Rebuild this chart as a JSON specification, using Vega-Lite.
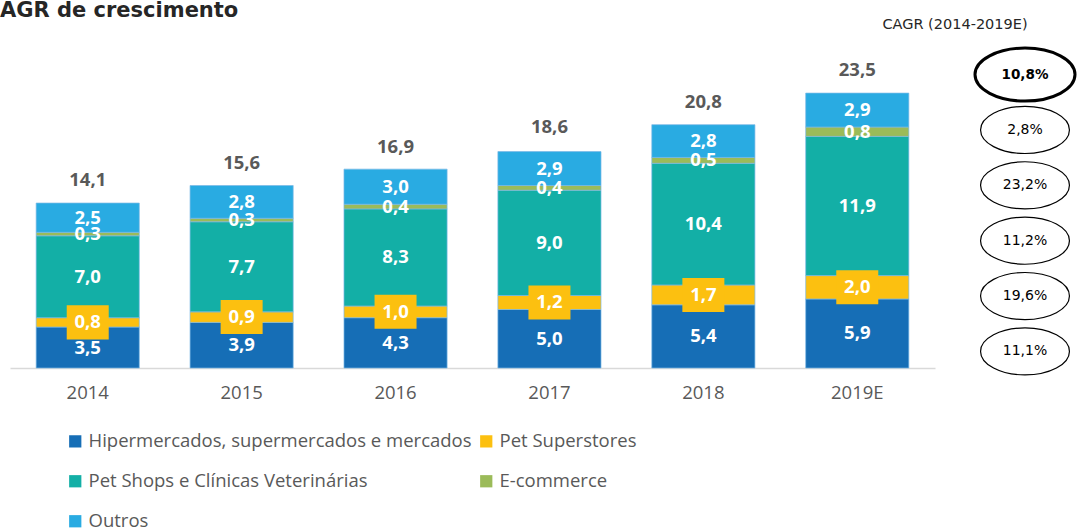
{
  "$schema": "https://vega.github.io/schema/vega-lite/v6.json",
  "padding": {"left": 0, "top": 0, "right": 5, "bottom": 0},
  "bounds": "flush",
  "spacing": 40,
  "config": {
    "view": {"stroke": null},
    "locale": {"number": {"decimal": ",", "thousands": ".", "grouping": [3], "currency": ["R$", ""]}}
  },
  "hconcat": [
    {
      "width": 925,
      "height": 310,
      "title": {"text": "AGR de crescimento", "anchor": "start", "dx": -10, "fontSize": 21, "font": "DejaVu Sans", "fontWeight": "bold", "color": "#262626", "offset": 37},
      "layer": [
        {
          "data": {"values": [
            {"ano": "2014", "canal": "Hipermercados, supermercados e mercados", "valor": 3.5},
            {"ano": "2014", "canal": "Pet Superstores", "valor": 0.8},
            {"ano": "2014", "canal": "Pet Shops e Clínicas Veterinárias", "valor": 7.0},
            {"ano": "2014", "canal": "E-commerce", "valor": 0.3},
            {"ano": "2014", "canal": "Outros", "valor": 2.5},
            {"ano": "2015", "canal": "Hipermercados, supermercados e mercados", "valor": 3.9},
            {"ano": "2015", "canal": "Pet Superstores", "valor": 0.9},
            {"ano": "2015", "canal": "Pet Shops e Clínicas Veterinárias", "valor": 7.7},
            {"ano": "2015", "canal": "E-commerce", "valor": 0.3},
            {"ano": "2015", "canal": "Outros", "valor": 2.8},
            {"ano": "2016", "canal": "Hipermercados, supermercados e mercados", "valor": 4.3},
            {"ano": "2016", "canal": "Pet Superstores", "valor": 1.0},
            {"ano": "2016", "canal": "Pet Shops e Clínicas Veterinárias", "valor": 8.3},
            {"ano": "2016", "canal": "E-commerce", "valor": 0.4},
            {"ano": "2016", "canal": "Outros", "valor": 3.0},
            {"ano": "2017", "canal": "Hipermercados, supermercados e mercados", "valor": 5.0},
            {"ano": "2017", "canal": "Pet Superstores", "valor": 1.2},
            {"ano": "2017", "canal": "Pet Shops e Clínicas Veterinárias", "valor": 9.0},
            {"ano": "2017", "canal": "E-commerce", "valor": 0.4},
            {"ano": "2017", "canal": "Outros", "valor": 2.9},
            {"ano": "2018", "canal": "Hipermercados, supermercados e mercados", "valor": 5.4},
            {"ano": "2018", "canal": "Pet Superstores", "valor": 1.7},
            {"ano": "2018", "canal": "Pet Shops e Clínicas Veterinárias", "valor": 10.4},
            {"ano": "2018", "canal": "E-commerce", "valor": 0.5},
            {"ano": "2018", "canal": "Outros", "valor": 2.8},
            {"ano": "2019E", "canal": "Hipermercados, supermercados e mercados", "valor": 5.9},
            {"ano": "2019E", "canal": "Pet Superstores", "valor": 2.0},
            {"ano": "2019E", "canal": "Pet Shops e Clínicas Veterinárias", "valor": 11.9},
            {"ano": "2019E", "canal": "E-commerce", "valor": 0.8},
            {"ano": "2019E", "canal": "Outros", "valor": 2.9}
          ]},
          "transform": [
            {"calculate": "indexof(['Hipermercados, supermercados e mercados','Pet Superstores','Pet Shops e Clínicas Veterinárias','E-commerce','Outros'], datum.canal)", "as": "ordem"},
            {"stack": "valor", "groupby": ["ano"], "sort": [{"field": "ordem", "order": "ascending"}], "as": ["v0", "v1"]},
            {"calculate": "(datum.v0 + datum.v1) / 2", "as": "meio"}
          ],
          "layer": [
            {
              "mark": {"type": "bar", "stroke": "#7ab8e6", "strokeWidth": 1, "strokeOpacity": 0.7},
              "encoding": {
                "x": {"field": "ano", "type": "ordinal", "scale": {"paddingInner": 0.33, "paddingOuter": 0.17},
                  "axis": {"title": null, "labelAngle": 0, "ticks": false, "domainColor": "#d9d9d9", "domainWidth": 1.5, "labelFontSize": 18.5, "labelFont": "Open Sans", "labelColor": "#595959", "labelPadding": 15}},
                "y": {"field": "v0", "type": "quantitative", "scale": {"domain": [0, 26.5], "nice": false}, "axis": null},
                "y2": {"field": "v1"},
                "color": {"field": "canal", "type": "nominal",
                  "scale": {"domain": ["Hipermercados, supermercados e mercados", "Pet Superstores", "Pet Shops e Clínicas Veterinárias", "E-commerce", "Outros"],
                            "range": ["#166eb6", "#fcc010", "#13afa6", "#9bbb59", "#29abe2"]},
                  "legend": {"title": null, "orient": "none", "legendX": 56, "legendY": 374, "direction": "horizontal", "columns": 2, "symbolType": "square", "symbolSize": 150, "symbolStrokeWidth": 0,
                    "labelFontSize": 18.5, "labelFont": "Open Sans", "labelColor": "#595959", "labelLimit": 600, "rowPadding": 21, "columnPadding": 5, "labelOffset": 4, "padding": 0}}
              }
            },
            {
              "transform": [{"filter": "datum.canal == 'Pet Superstores'"}],
              "mark": {"type": "point", "shape": "M-1,-0.81L1,-0.81L1,0.81L-1,0.81Z", "filled": true, "size": 1764, "opacity": 1, "color": "#fcc010", "strokeWidth": 0},
              "encoding": {
                "x": {"field": "ano", "type": "ordinal"},
                "y": {"field": "meio", "type": "quantitative"}
              }
            },
            {
              "mark": {"type": "text", "font": "Open Sans", "fontSize": 18.5, "fontWeight": "bold", "color": "white"},
              "encoding": {
                "x": {"field": "ano", "type": "ordinal"},
                "y": {"field": "meio", "type": "quantitative"},
                "text": {"field": "valor", "type": "quantitative", "format": ".1f"}
              }
            }
          ]
        },
        {
          "data": {"values": [
            {"ano": "2014", "total": 14.1},
            {"ano": "2015", "total": 15.6},
            {"ano": "2016", "total": 16.9},
            {"ano": "2017", "total": 18.6},
            {"ano": "2018", "total": 20.8},
            {"ano": "2019E", "total": 23.5}
          ]},
          "mark": {"type": "text", "font": "Open Sans", "fontSize": 18.5, "fontWeight": "bold", "color": "#595959", "dy": -23},
          "encoding": {
            "x": {"field": "ano", "type": "ordinal"},
            "y": {"field": "total", "type": "quantitative"},
            "text": {"field": "total", "type": "quantitative", "format": ".1f"}
          }
        }
      ]
    },
    {
      "width": 100,
      "height": 310,
      "title": {"text": "CAGR (2014-2019E)", "anchor": "middle", "dx": -70, "dy": -6, "fontSize": 14.5, "font": "DejaVu Sans", "fontWeight": "normal", "color": "#262626", "offset": 4},
      "data": {"values": [
        {"item": "Total", "cagr": 0.108, "tipo": "Total"},
        {"item": "Outros", "cagr": 0.028, "tipo": "Canal"},
        {"item": "E-commerce", "cagr": 0.232, "tipo": "Canal"},
        {"item": "Pet Shops e Clínicas Veterinárias", "cagr": 0.112, "tipo": "Canal"},
        {"item": "Pet Superstores", "cagr": 0.196, "tipo": "Canal"},
        {"item": "Hipermercados, supermercados e mercados", "cagr": 0.111, "tipo": "Canal"}
      ]},
      "encoding": {
        "y": {"field": "item", "type": "ordinal", "sort": ["Total", "Outros", "E-commerce", "Pet Shops e Clínicas Veterinárias", "Pet Superstores", "Hipermercados, supermercados e mercados"],
          "scale": {"type": "point", "padding": 0.3}, "axis": null}
      },
      "layer": [
        {
          "mark": {"type": "point", "shape": "M-1,0A1,0.53,0,1,1,1,0A1,0.53,0,1,1,-1,0Z", "filled": false, "color": "black", "opacity": 1},
          "encoding": {
            "size": {"field": "tipo", "type": "nominal", "scale": {"domain": ["Total", "Canal"], "range": [10000, 7900]}, "legend": null},
            "strokeWidth": {"field": "tipo", "type": "nominal", "scale": {"domain": ["Total", "Canal"], "range": [3, 1.2]}, "legend": null}
          }
        },
        {
          "transform": [{"filter": "datum.tipo == 'Total'"}],
          "mark": {"type": "text", "font": "DejaVu Sans", "fontSize": 13.5, "fontWeight": "bold", "color": "black"},
          "encoding": {"text": {"field": "cagr", "type": "quantitative", "format": ".1%"}}
        },
        {
          "transform": [{"filter": "datum.tipo != 'Total'"}],
          "mark": {"type": "text", "font": "DejaVu Sans", "fontSize": 14, "fontWeight": "normal", "color": "black"},
          "encoding": {"text": {"field": "cagr", "type": "quantitative", "format": ".1%"}}
        }
      ]
    }
  ]
}
